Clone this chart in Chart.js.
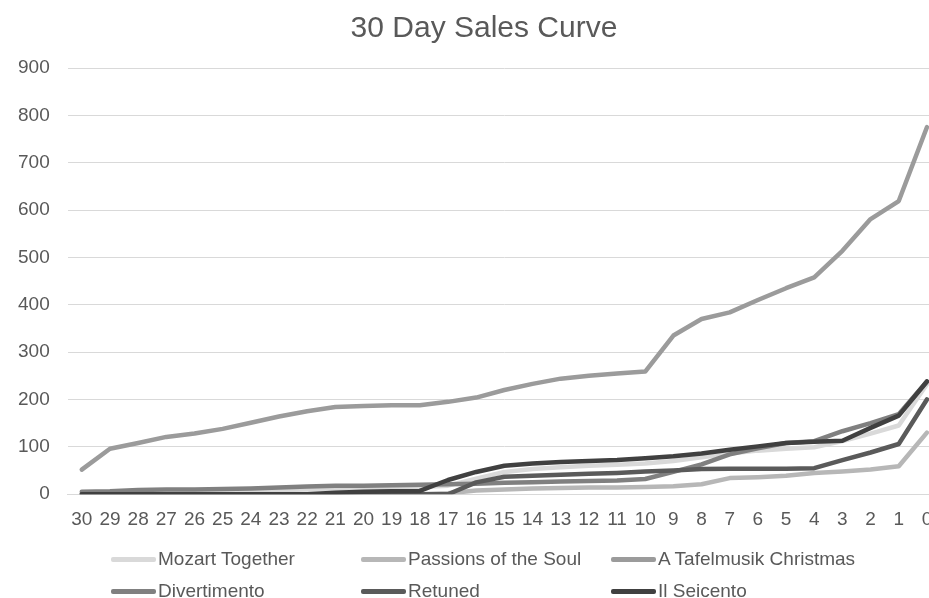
<!DOCTYPE html>
<html>
<head>
<meta charset="utf-8">
<script src="https://cdn.jsdelivr.net/npm/chart.js@4"></script>
<style>
  html, body { margin: 0; padding: 0; background: #fff; overflow: hidden; }
  #wrap { position: relative; width: 970px; height: 598px; }
  #legend {
    position: absolute; left: 111px; top: 543px;
    display: grid; grid-template-columns: 250px 250px 250px; row-gap: 0;
    font-family: "Liberation Sans", Arial, sans-serif; font-size: 19px; color: #595959;
  }
  .item { display: flex; align-items: center; height: 32px; }
  .swatch { width: 45px; height: 5px; border-radius: 2px; margin-right: 2px; }
</style>
</head>
<body>
<div id="wrap">
  <canvas id="salesChart" width="970" height="598"></canvas>
  <div id="legend"></div>
</div>
<script>
const days = ["30","29","28","27","26","25","24","23","22","21","20","19","18","17","16","15","14","13","12","11","10","9","8","7","6","5","4","3","2","1","0"];

const mozart      = [2, 3, 4, 5, 6, 7, 8, 9, 10, 11, 12, 13, 15, 18, 33, 47, 53, 57, 60, 62, 65, 70, 78, 86, 92, 96, 99, 112, 128, 145, 232];
const passions    = [0, 0, 0, 0, 0, 0, 0, 0, 0, 0, 0, 0, 0, 2, 8, 10, 12, 13, 14, 14, 15, 17, 21, 34, 36, 39, 45, 48, 52, 59, 130];
const tafelmusik  = [52, 96, 108, 121, 128, 138, 151, 164, 175, 184, 186, 188, 188, 195, 204, 220, 233, 244, 250, 255, 259, 335, 370, 384, 410, 435, 458, 514, 581, 619, 775];
const divertimento = [5, 6, 9, 10, 10, 11, 12, 14, 16, 18, 18, 19, 20, 21, 22, 24, 25, 27, 28, 29, 32, 47, 63, 84, 97, 108, 112, 133, 150, 169, 238];
const retuned     = [0, 0, 0, 0, 0, 0, 0, 0, 0, 0, 0, 0, 0, 0, 25, 37, 39, 41, 43, 45, 48, 50, 53, 54, 54, 54, 55, 72, 88, 106, 200];
const seicento    = [0, 0, 0, 0, 0, 0, 0, 0, 0, 3, 5, 6, 7, 30, 47, 60, 65, 68, 70, 72, 76, 80, 86, 94, 101, 108, 111, 113, 140, 166, 238];

const yTicks = [0, 100, 200, 300, 400, 500, 600, 700, 800, 900];

const seriesNames = ["Mozart Together", "Passions of the Soul", "A Tafelmusik Christmas", "Divertimento", "Retuned", "Il Seicento"];
const seriesData = [mozart, passions, tafelmusik, divertimento, retuned, seicento];
const seriesColors = ["#d9d9d9", "#b7b7b7", "#9b9b9b", "#808080", "#5a5a5a", "#404040"];

const font = "'Liberation Sans', Arial, sans-serif";

const datasets = seriesNames.map((name, i) => ({
  label: name,
  data: seriesData[i],
  borderColor: seriesColors[i],
  backgroundColor: seriesColors[i],
  borderWidth: 4.5,
  borderCapStyle: "round",
  borderJoinStyle: "round",
  pointRadius: 0,
  tension: 0,
  fill: false,
  order: seriesNames.length - i
}));

const ctx = document.getElementById("salesChart").getContext("2d");

new Chart(ctx, {
  type: "line",
  data: { labels: days, datasets: datasets },
  options: {
    responsive: false,
    animation: false,
    layout: { padding: { left: 0, right: 2, top: 10, bottom: 53 } },
    plugins: {
      legend: { display: false },
      tooltip: { enabled: false },
      title: {
        display: true,
        text: "30 Day Sales Curve",
        color: "#595959",
        font: { family: font, size: 30, weight: "normal" },
        padding: { top: 1, bottom: 21 }
      }
    },
    scales: {
      x: {
        offset: true,
        grid: { display: false, drawTicks: false },
        border: { color: "#d9d9d9", width: 1 },
        ticks: {
          color: "#595959",
          font: { family: font, size: 19 },
          padding: 14,
          maxRotation: 0,
          autoSkip: false
        }
      },
      y: {
        min: 0,
        max: 900,
        afterBuildTicks: axis => { axis.ticks = yTicks.map(v => ({ value: v })); },
        grid: { color: "#d9d9d9", drawTicks: false },
        border: { display: false },
        ticks: {
          color: "#595959",
          font: { family: font, size: 19 },
          padding: 18
        }
      },
      // empty strip on the right, so the plot runs past the window edge like the original
      spare: {
        type: "linear",
        position: "right",
        min: 0,
        max: 900,
        grid: { display: false, drawTicks: false },
        border: { display: false },
        ticks: { display: false },
        afterFit: axis => { axis.width = 27; }
      }
    }
  }
});

const legend = document.getElementById("legend");
seriesNames.forEach((name, i) => {
  const item = document.createElement("div");
  item.className = "item";
  const sw = document.createElement("span");
  sw.className = "swatch";
  sw.style.background = seriesColors[i];
  const txt = document.createElement("span");
  txt.textContent = name;
  item.appendChild(sw);
  item.appendChild(txt);
  legend.appendChild(item);
});
</script>
</body>
</html>
